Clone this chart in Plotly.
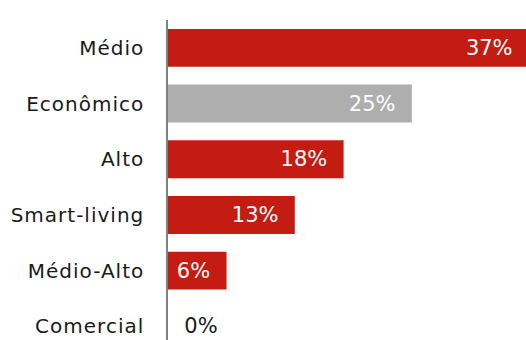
import plotly.graph_objects as go

# Share of launches by segment (%)
segments = ["Médio", "Econômico", "Alto", "Smart-living", "Médio-Alto", "Comercial"]
shares = [37, 25, 18, 13, 6, 0]
highlight = ["Econômico"]

RED = "#C41C12"
GRAY = "#AEAEAE"
NBSP = "\u00a0"

colors = [GRAY if s in highlight else RED for s in segments]
positions = ["inside" if v > 0 else "outside" for v in shares]
labels = [
    f"{v}%" + NBSP * 2 if v > 0 else NBSP * 2 + f"{v}%"
    for v in shares
]
label_colors = ["#FFFFFF" if v > 0 else "#1A1A1A" for v in shares]

FONT = "DejaVu Sans"

fig = go.Figure(
    go.Bar(
        x=shares,
        y=segments,
        orientation="h",
        marker=dict(color=colors, line=dict(width=0)),
        text=labels,
        textposition=positions,
        insidetextanchor="end",
        textangle=0,
        textfont=dict(family=FONT, size=21, color=label_colors),
        cliponaxis=True,
        constraintext="none",
    )
)

n = len(segments)
fig.update_layout(
    width=526,
    height=340,
    margin=dict(l=168, r=0, t=20, b=0),
    paper_bgcolor="white",
    plot_bgcolor="white",
    bargap=0.32,
    showlegend=False,
    xaxis=dict(
        range=[0, 36.7],
        visible=False,
        showgrid=False,
        zeroline=False,
    ),
    yaxis=dict(
        type="category",
        range=[n - 0.755, -0.5],
        showgrid=False,
        zeroline=False,
        showline=True,
        linecolor="#808080",
        linewidth=1.5,
        ticks="",
        ticklabelstandoff=18,
        tickfont=dict(family=FONT, size=20, color="#1A1A1A"),
    ),
)

# Slightly wider tracking on the category names
css = (
    "var s=document.createElement('style');"
    "s.textContent='.ytick text{letter-spacing:1px}';"
    "document.head.appendChild(s);"
)
fig.write_html("out.html", post_script=css)
